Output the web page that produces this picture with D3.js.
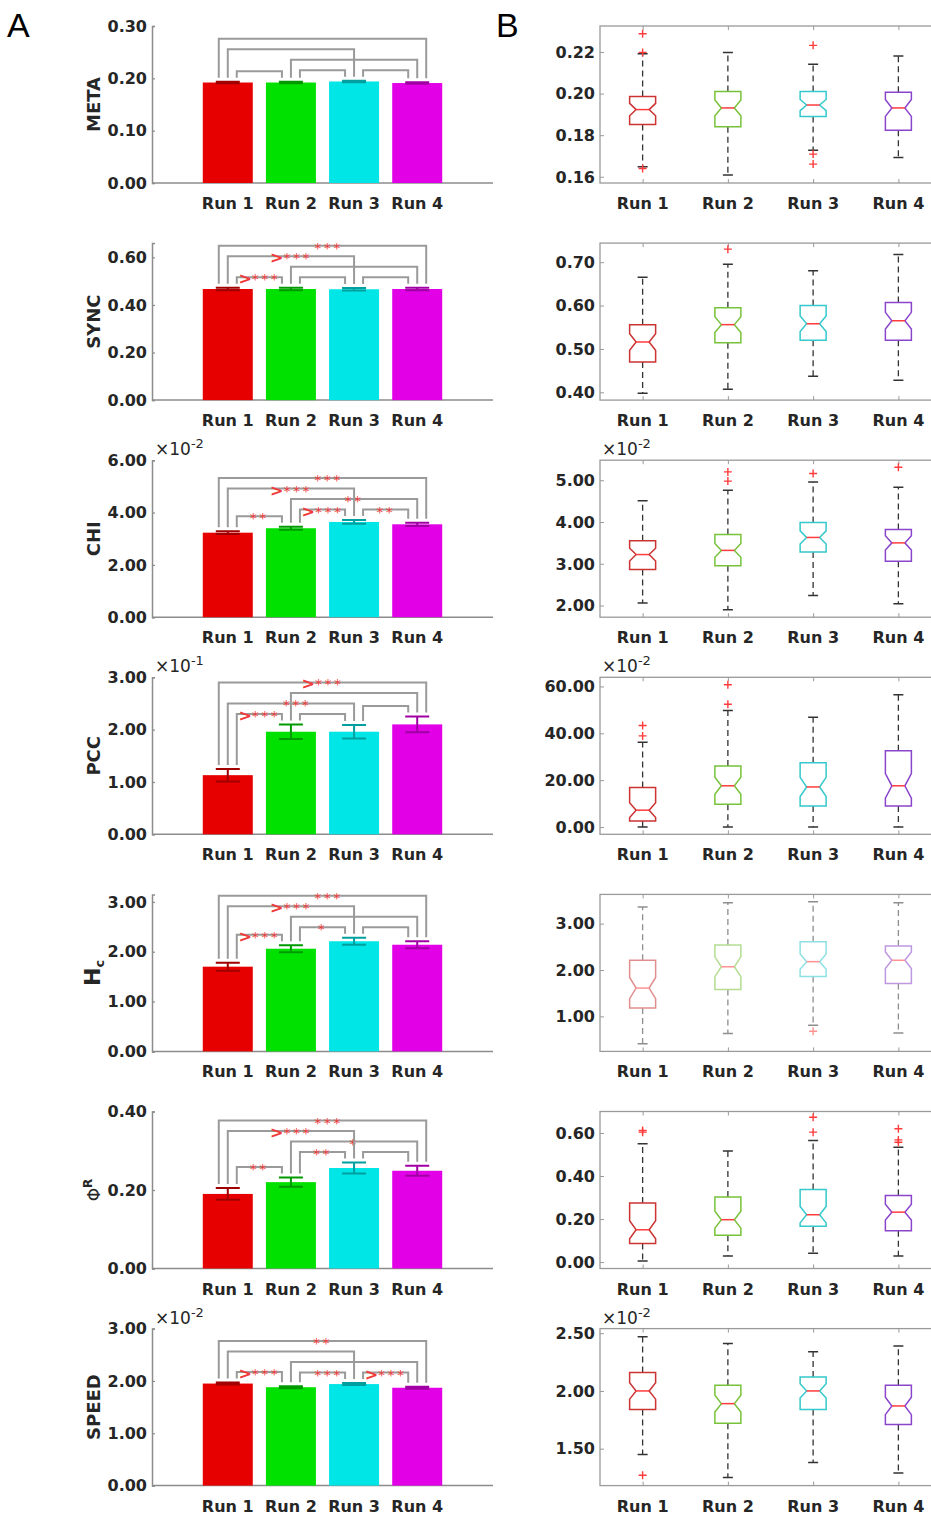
<!DOCTYPE html>
<html>
<head>
<meta charset="utf-8">
<script src="https://cdn.jsdelivr.net/npm/d3@7"></script>
<style>
  body { margin: 0; background: #fff; }
  svg text { font-family: "DejaVu Sans", sans-serif; }
</style>
</head>
<body>
<svg id="fig" width="931" height="1516"></svg>
<script>
var runs = ["Run 1", "Run 2", "Run 3", "Run 4"];

// A: mean and error bar of each run (in the units printed on the axis)
var metaMean = [0.192, 0.192, 0.194, 0.191];
var metaErr = [0.0015, 0.0015, 0.0015, 0.0015];
var syncMean = [0.467, 0.467, 0.466, 0.467];
var syncErr = [0.005, 0.005, 0.005, 0.005];
var chiMean = [3.23, 3.40, 3.64, 3.55]; // x10^-2
var chiErr = [0.05, 0.06, 0.07, 0.06];
var pccMean = [1.13, 1.96, 1.96, 2.10]; // x10^-1
var pccErr = [0.12, 0.14, 0.13, 0.15];
var hcMean = [1.70, 2.06, 2.21, 2.14];
var hcErr = [0.08, 0.07, 0.07, 0.07];
var phiMean = [0.190, 0.220, 0.256, 0.249];
var phiErr = [0.015, 0.012, 0.014, 0.013];
var speedMean = [1.95, 1.88, 1.94, 1.87]; // x10^-2
var speedErr = [0.02, 0.02, 0.02, 0.02];

// significance marks, pairs in order 1-2, 2-3, 3-4, 1-3, 2-4, 1-4
var metaSig = ["", "", "", "", "", ""];
var syncSig = [">***", "", "", ">***", "", "***"];
var chiSig = ["**", ">***", "**", ">***", "**", "***"];
var pccSig = [">***", "", "", "***", "", ">***"];
var hcSig = [">***", "*", "", ">***", "", "***"];
var phiSig = ["**", "**", "", ">***", "*", "***"];
var speedSig = [">***", "***", ">***", "", "", "**"];

// B: boxplots, [low whisker, q1, median, q3, high whisker] per run, plus outliers
var metaBox = [[0.1648, 0.1851, 0.1923, 0.1986, 0.2192], [0.1608, 0.1840, 0.1931, 0.2010, 0.2197],
  [0.1728, 0.1890, 0.1945, 0.2010, 0.2141], [0.1693, 0.1824, 0.1931, 0.2007, 0.2181]];
var metaOut = [[0.2288, 0.2198, 0.1640], [], [0.2232, 0.1709, 0.1661], []];
var syncBox = [[0.398, 0.470, 0.516, 0.556, 0.665], [0.407, 0.514, 0.556, 0.595, 0.695],
  [0.437, 0.520, 0.558, 0.600, 0.680], [0.428, 0.520, 0.565, 0.607, 0.718]];
var syncOut = [[], [0.730], [], []];
var chiBox = [[2.06, 2.86, 3.22, 3.55, 4.51], [1.90, 2.95, 3.32, 3.70, 4.76],
  [2.24, 3.28, 3.63, 3.99, 4.96], [2.04, 3.06, 3.50, 3.82, 4.83]];
var chiOut = [[], [5.20, 4.98], [5.16], [5.31]];
var pccBox = [[0.0, 2.6, 7.2, 16.9, 36.2], [0.0, 9.7, 17.6, 26.1, 49.7],
  [0.0, 9.0, 17.1, 27.4, 46.9], [0.0, 9.0, 17.6, 32.6, 56.4]];
var pccOut = [[43.3, 38.9], [60.7, 52.4], [], []];
var hcBox = [[0.41, 1.18, 1.61, 2.21, 3.36], [0.63, 1.58, 2.07, 2.54, 3.45],
  [0.81, 1.86, 2.18, 2.61, 3.47], [0.64, 1.71, 2.21, 2.52, 3.45]];
var hcOut = [[], [], [0.68], []];
var phiBox = [[0.005, 0.086, 0.150, 0.274, 0.550], [0.028, 0.125, 0.197, 0.302, 0.516],
  [0.041, 0.166, 0.220, 0.337, 0.565], [0.028, 0.146, 0.232, 0.310, 0.534]];
var phiOut = [[0.612, 0.604], [], [0.673, 0.604], [0.620, 0.568, 0.557]];
var speedBox = [[1.45, 1.84, 2.00, 2.16, 2.47], [1.25, 1.72, 1.89, 2.05, 2.41],
  [1.38, 1.84, 2.00, 2.12, 2.34], [1.29, 1.71, 1.87, 2.05, 2.39]];
var speedOut = [[1.27], [], [], []];
var sampleSize = 50; // used for the notch width

var panels = [
  { label: ["META"], mean: metaMean, err: metaErr, sig: metaSig, aDom: [0, 0.30], aTicks: [0, 0.1, 0.2, 0.3],
    box: metaBox, out: metaOut, bDom: [0.157, 0.2325], bTicks: [0.16, 0.18, 0.20, 0.22] },
  { label: ["SYNC"], mean: syncMean, err: syncErr, sig: syncSig, aDom: [0, 0.66], aTicks: [0, 0.2, 0.4, 0.6],
    box: syncBox, out: syncOut, bDom: [0.382, 0.744], bTicks: [0.4, 0.5, 0.6, 0.7] },
  { label: ["CHI"], mean: chiMean, err: chiErr, sig: chiSig, aDom: [0, 6.0], aTicks: [0, 2, 4, 6], aExp: "-2",
    box: chiBox, out: chiOut, bDom: [1.72, 5.48], bTicks: [2, 3, 4, 5], bExp: "-2" },
  { label: ["PCC"], mean: pccMean, err: pccErr, sig: pccSig, aDom: [0, 3.0], aTicks: [0, 1, 2, 3], aExp: "-1",
    box: pccBox, out: pccOut, bDom: [-3.1, 63.9], bTicks: [0, 20, 40, 60], bExp: "-2" },
  { label: ["H", "c", "sub"], mean: hcMean, err: hcErr, sig: hcSig, aDom: [0, 3.15], aTicks: [0, 1, 2, 3],
    box: hcBox, out: hcOut, bDom: [0.245, 3.63], bTicks: [1, 2, 3], faded: true },
  { label: ["\u03A6", "R", "sup"], mean: phiMean, err: phiErr, sig: phiSig, aDom: [0, 0.40], aTicks: [0, 0.2, 0.4],
    box: phiBox, out: phiOut, bDom: [-0.03, 0.70], bTicks: [0, 0.2, 0.4, 0.6] },
  { label: ["SPEED"], mean: speedMean, err: speedErr, sig: speedSig, aDom: [0, 3.0], aTicks: [0, 1, 2, 3], aExp: "-2",
    box: speedBox, out: speedOut, bDom: [1.18, 2.54], bTicks: [1.5, 2.0, 2.5], bExp: "-2" }
];

var barColors = ["#e60000", "#00e100", "#00e5e5", "#e200e6"];
var errColors = ["#a00000", "#009a00", "#009f9f", "#a000a3"];
var boxColors = ["#cc3333", "#77c23a", "#35c8cc", "#8a45cc"];
var axisGray = "#8c8c8c";
var textColor = "#262626";
var sigRed = "#f03a3a";

var svg = d3.select("#fig");
var plotH = 157;
var xA = d3.scaleLinear().domain([-0.2, 5.2]).range([152, 493]);
var xB = d3.scaleLinear().domain([0.5, 4.5]).range([600, 941]);

svg.append("text").attr("x", 7).attr("y", 37).style("font-family", "Liberation Sans")
  .style("font-size", "34px").text("A");
svg.append("text").attr("x", 496).attr("y", 37).style("font-family", "Liberation Sans")
  .style("font-size", "34px").text("B");

// pairs: 1-2, 2-3, 3-4, 1-3, 2-4, 1-4
var pairs = [[0, 1], [1, 2], [2, 3], [0, 2], [1, 3], [0, 3]];

function expLabel(g, x, y, e) {
  var t = g.append("text").attr("x", x).attr("y", y).attr("fill", textColor).style("font-size", "17px");
  t.append("tspan").text("\u00D710");
  t.append("tspan").attr("dy", -7).style("font-size", "13px").text(e);
}

panels.forEach(function (p, k) {
  var bottom = 183 + k * 217.1;
  var top = bottom - plotH;
  var g = svg.append("g");

  // ---------- panel A: bars ----------
  var yA = d3.scaleLinear().domain(p.aDom).range([bottom, top]);

  g.append("g").attr("transform", "translate(152,0)")
    .call(d3.axisRight(yA).tickValues(p.aTicks).tickSize(3).tickFormat(""))
    .call(function (ax) {
      ax.select(".domain").attr("stroke", axisGray).attr("stroke-width", 1.5);
      ax.selectAll(".tick line").attr("stroke", axisGray).attr("stroke-width", 1.2);
    });
  g.selectAll(".ya").data(p.aTicks).enter().append("text")
    .attr("x", 147).attr("y", function (d) { return yA(d); }).attr("dy", "0.36em")
    .attr("text-anchor", "end").attr("fill", textColor)
    .style("font-size", "16px").style("font-weight", "bold")
    .text(function (d) { return d.toFixed(2); });
  g.append("line").attr("x1", 152).attr("x2", 493).attr("y1", bottom).attr("y2", bottom)
    .attr("stroke", axisGray).attr("stroke-width", 1.5);

  g.selectAll(".bar").data(p.mean).enter().append("rect")
    .attr("x", function (d, i) { return xA(i + 1) - 25; })
    .attr("width", 50)
    .attr("y", function (d) { return yA(d); })
    .attr("height", function (d) { return bottom - yA(d); })
    .attr("fill", function (d, i) { return barColors[i]; });

  g.selectAll(".eb").data(p.mean).enter().append("path")
    .attr("d", function (d, i) {
      var c = xA(i + 1), hi = yA(d + p.err[i]), lo = yA(d - p.err[i]);
      return "M" + (c - 12) + "," + hi + "H" + (c + 12) + "M" + c + "," + hi + "V" + lo +
        "M" + (c - 12) + "," + lo + "H" + (c + 12);
    })
    .attr("fill", "none").attr("stroke", function (d, i) { return errColors[i]; })
    .attr("stroke-width", 2);

  // significance brackets, stacked above bars and earlier brackets
  var tops = p.mean.map(function (d, i) { return yA(d + p.err[i]); });
  var gap = 10.5;
  var placed = [];
  function levelFor(i, j) {
    var y = d3.min(d3.range(i, j + 1), function (q) { return tops[q]; }) - gap;
    placed.forEach(function (b) {
      if (b.i < j && b.j > i) y = Math.min(y, b.y - gap);
    });
    return y;
  }
  function place(idx) {
    var pr = pairs[idx];
    placed.push({ i: pr[0], j: pr[1], y: levelFor(pr[0], pr[1]), idx: idx });
  }
  place(0); place(1); place(2);
  if (levelFor(0, 2) > levelFor(1, 3) + 1) { place(3); place(4); } else { place(4); place(3); }
  place(5);

  placed.forEach(function (b) {
    var span = b.j - b.i;
    var off = span === 1 ? 9 : span === 2 ? 0 : -9;
    var xl = xA(b.i + 1) + off, xr = xA(b.j + 1) - off;
    g.append("path")
      .attr("d", "M" + xl + "," + (tops[b.i] - 4) + "V" + b.y + "H" + xr + "V" + (tops[b.j] - 4))
      .attr("fill", "none").attr("stroke", "#9a9a9a").attr("stroke-width", 2);
    var s = p.sig[b.idx];
    if (!s) return;
    var stars = s.replace(">", "");
    var hasArrow = s.charAt(0) === ">";
    // a triple star without the arrow sits where the stars of ">***" would be
    var shift = (!hasArrow && stars.length === 3) ? 6 : 0;
    var t = g.append("text").attr("x", (xl + xr) / 2 + shift).attr("y", b.y + 7)
      .attr("text-anchor", "middle").attr("fill", sigRed);
    if (hasArrow) {
      t.append("tspan").style("font-size", "16px").style("font-weight", "bold").text(">");
    }
    t.append("tspan").style("font-size", "14px").style("letter-spacing", "2.5px").text(stars);
  });

  g.selectAll(".xa").data(runs).enter().append("text")
    .attr("x", function (d, i) { return xA(i + 1); }).attr("y", bottom + 26)
    .attr("text-anchor", "middle").attr("fill", textColor)
    .style("font-size", "16px").style("font-weight", "bold").text(function (d) { return d; });

  // y label
  var mid = (top + bottom) / 2;
  var lab = g.append("text").attr("transform", "translate(100," + mid + ") rotate(-90)")
    .attr("text-anchor", "middle").attr("fill", textColor).style("font-weight", "bold");
  if (p.label.length === 1) {
    lab.style("font-size", "18px").text(p.label[0]);
  } else if (p.label[2] === "sub") {
    lab.append("tspan").style("font-size", "22px").text(p.label[0]);
    lab.append("tspan").style("font-size", "13px").attr("dy", 4).text(p.label[1]);
  } else {
    lab.append("tspan").style("font-size", "17px").style("font-weight", "normal").text(p.label[0]);
    lab.append("tspan").style("font-size", "12px").attr("dy", -8).text(p.label[1]);
  }
  if (p.aExp) expLabel(g, 155, top - 5, p.aExp);

  // ---------- panel B: notched boxplots ----------
  var yB = d3.scaleLinear().domain(p.bDom).range([bottom, top]);
  var gb = g.append("g");
  gb.append("rect").attr("x", 600).attr("y", top).attr("width", 341).attr("height", plotH)
    .attr("fill", "none").attr("stroke", "#9a9a9a").attr("stroke-width", 1.3);
  gb.append("g").attr("transform", "translate(600,0)")
    .call(d3.axisRight(yB).tickValues(p.bTicks).tickSize(4).tickFormat(""))
    .call(function (ax) {
      ax.select(".domain").remove();
      ax.selectAll(".tick line").attr("stroke", "#9a9a9a");
    });
  gb.append("g").attr("transform", "translate(0," + bottom + ")")
    .call(d3.axisTop(xB).tickValues([1, 2, 3, 4]).tickSize(4).tickFormat(""))
    .call(function (ax) { ax.select(".domain").remove(); ax.selectAll(".tick line").attr("stroke", "#9a9a9a"); });
  gb.append("g").attr("transform", "translate(0," + top + ")")
    .call(d3.axisBottom(xB).tickValues([1, 2, 3, 4]).tickSize(4).tickFormat(""))
    .call(function (ax) { ax.select(".domain").remove(); ax.selectAll(".tick line").attr("stroke", "#9a9a9a"); });

  gb.selectAll(".yb").data(p.bTicks).enter().append("text")
    .attr("x", 595).attr("y", function (d) { return yB(d); }).attr("dy", "0.36em")
    .attr("text-anchor", "end").attr("fill", textColor)
    .style("font-size", "16px").style("font-weight", "bold")
    .text(function (d) { return d.toFixed(2); });
  gb.selectAll(".xb").data(runs).enter().append("text")
    .attr("x", function (d, i) { return xB(i + 1); }).attr("y", bottom + 26)
    .attr("text-anchor", "middle").attr("fill", textColor)
    .style("font-size", "16px").style("font-weight", "bold").text(function (d) { return d; });
  if (p.bExp) expLabel(gb, 602, top - 5, p.bExp);

  var boxes = gb.append("g").attr("opacity", p.faded ? 0.55 : 1);
  var w = 13, ins = 6.5;
  p.box.forEach(function (b, i) {
    var c = xB(i + 1);
    var lo = yB(b[0]), q1 = yB(b[1]), med = yB(b[2]), q3 = yB(b[3]), hi = yB(b[4]);
    var half = 1.57 * (b[3] - b[1]) / Math.sqrt(sampleSize);
    var nHi = Math.max(yB(b[2] + half), q3), nLo = Math.min(yB(b[2] - half), q1);
    boxes.append("path")
      .attr("d", "M" + c + "," + q3 + "V" + hi + "M" + c + "," + q1 + "V" + lo)
      .attr("stroke", "#333").attr("stroke-width", 1.3).attr("stroke-dasharray", "6,4");
    boxes.append("path")
      .attr("d", "M" + (c - 5) + "," + hi + "H" + (c + 5) + "M" + (c - 5) + "," + lo + "H" + (c + 5))
      .attr("stroke", "#333").attr("stroke-width", 1.5);
    boxes.append("path")
      .attr("d", "M" + (c - w) + "," + q3 + "H" + (c + w) + "V" + nHi + "L" + (c + w - ins) + "," + med +
        "L" + (c + w) + "," + nLo + "V" + q1 + "H" + (c - w) + "V" + nLo + "L" + (c - w + ins) + "," + med +
        "L" + (c - w) + "," + nHi + "Z")
      .attr("fill", "none").attr("stroke", boxColors[i]).attr("stroke-width", 1.5);
    boxes.append("line").attr("x1", c - w + ins).attr("x2", c + w - ins).attr("y1", med).attr("y2", med)
      .attr("stroke", "#ff3b3b").attr("stroke-width", 1.5);
    boxes.selectAll(null).data(p.out[i]).enter().append("path")
      .attr("d", function (d) { var y = yB(d); return "M" + (c - 4) + "," + y + "H" + (c + 4) + "M" + c + "," + (y - 4) + "V" + (y + 4); })
      .attr("stroke", "#ff3b3b").attr("stroke-width", 1.4);
  });
});
</script>
</body>
</html>
